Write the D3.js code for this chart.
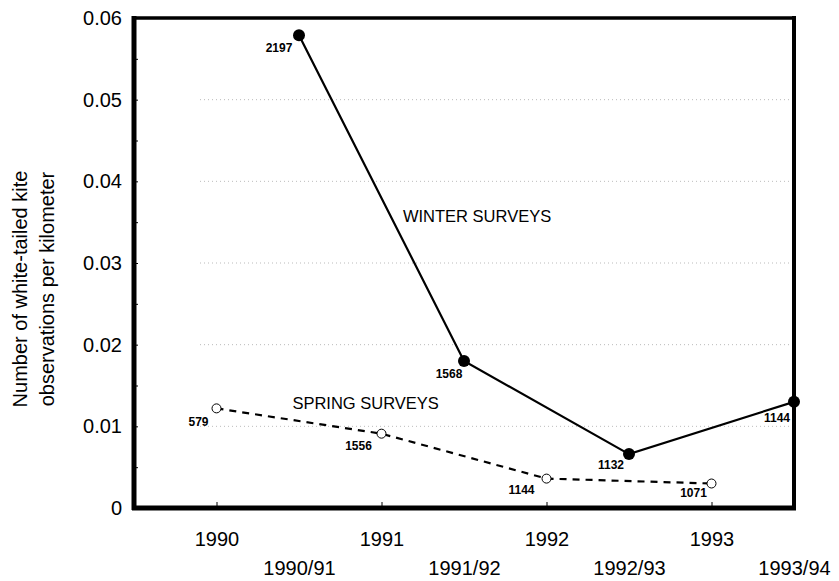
<!DOCTYPE html>
<html>
<head>
<meta charset="utf-8">
<script src="https://cdn.jsdelivr.net/npm/d3@7"></script>
<style>
body { margin: 0; background: #fff; }
text { font-family: "Liberation Sans", Arial, sans-serif; fill: #000; }
</style>
</head>
<body>
<script>
// data
var springYears = [1990, 1991, 1992, 1993];
var springValues = [0.0122, 0.0091, 0.0036, 0.0030];
var springCounts = ["579", "1556", "1144", "1071"];

var winterYears = [1990.5, 1991.5, 1992.5, 1993.5];
var winterValues = [0.0579, 0.0180, 0.0066, 0.0130];
var winterCounts = ["2197", "1568", "1132", "1144"];

var yTicks = [0, 0.01, 0.02, 0.03, 0.04, 0.05, 0.06];
var yTickLabels = ["0", "0.01", "0.02", "0.03", "0.04", "0.05", "0.06"];
var springTickLabels = ["1990", "1991", "1992", "1993"];
var winterTickLabels = ["1990/91", "1991/92", "1992/93", "1993/94"];

var margin = {top: 18, right: 45, bottom: 73, left: 134};
var width = 839 - margin.left - margin.right;
var height = 581 - margin.top - margin.bottom;

var svg = d3.select("body").append("svg")
	.attr("width", 839)
	.attr("height", 581);

var g = svg.append("g")
	.attr("transform", "translate(" + margin.left + "," + margin.top + ")");

var x = d3.scaleLinear().domain([1989.5, 1993.5]).range([0, width]);
var y = d3.scaleLinear().domain([0, 0.06]).range([height, 0]);

// dotted grid lines
g.selectAll("line.grid")
	.data(yTicks.slice(1, 6))
	.enter()
	.append("line")
	.attr("class", "grid")
	.attr("x1", x(1989.9))
	.attr("x2", width)
	.attr("y1", function (d) { return y(d); })
	.attr("y2", function (d) { return y(d); })
	.attr("stroke", "#aaa")
	.attr("stroke-width", 0.8)
	.attr("stroke-dasharray", "1,3");

// minor inward ticks on the left axis
g.append("g")
	.call(d3.axisRight(y).tickValues(d3.range(0, 0.0601, 0.005)).tickSize(4).tickFormat(""))
	.call(function (s) { s.select(".domain").remove(); })
	.selectAll("line").attr("stroke-width", 1);

// y axis labels
g.append("g")
	.call(d3.axisLeft(y).tickValues(yTicks).tickSize(0).tickPadding(12)
		.tickFormat(function (d, i) { return yTickLabels[i]; }))
	.call(function (s) { s.select(".domain").remove(); })
	.selectAll("text")
	.style("font-size", "20px")
	.style("font-family", "Liberation Sans, Arial, sans-serif");

// x axis: spring years (upper row)
g.append("g")
	.attr("transform", "translate(0," + height + ")")
	.call(d3.axisBottom(x).tickValues(springYears).tickSize(-6).tickPadding(24)
		.tickFormat(function (d, i) { return springTickLabels[i]; }))
	.call(function (s) { s.select(".domain").remove(); })
	.selectAll("text")
	.style("font-size", "20px")
	.style("font-family", "Liberation Sans, Arial, sans-serif");

// x axis: winter seasons (lower row)
g.append("g")
	.attr("transform", "translate(0," + height + ")")
	.call(d3.axisBottom(x).tickValues(winterYears).tickSize(0).tickPadding(53)
		.tickFormat(function (d, i) { return winterTickLabels[i]; }))
	.call(function (s) { s.select(".domain").remove(); })
	.selectAll("text")
	.style("font-size", "20px")
	.style("font-family", "Liberation Sans, Arial, sans-serif");

// frame
g.append("line").attr("x1", -2).attr("x2", width + 2).attr("y1", height).attr("y2", height)
	.attr("stroke", "#000").attr("stroke-width", 5);
g.append("line").attr("x1", 0).attr("x2", 0).attr("y1", -2).attr("y2", height + 2)
	.attr("stroke", "#000").attr("stroke-width", 5);
g.append("line").attr("x1", 0).attr("x2", width).attr("y1", 0).attr("y2", 0)
	.attr("stroke", "#000").attr("stroke-width", 3.5);
g.append("line").attr("x1", width).attr("x2", width).attr("y1", -2).attr("y2", height + 2)
	.attr("stroke", "#000").attr("stroke-width", 4);

var springData = springYears.map(function (d, i) { return {x: d, y: springValues[i], n: springCounts[i]}; });
var winterData = winterYears.map(function (d, i) { return {x: d, y: winterValues[i], n: winterCounts[i]}; });

var line = d3.line()
	.x(function (d) { return x(d.x); })
	.y(function (d) { return y(d.y); });

// spring: dashed line, open circles
g.append("path")
	.datum(springData)
	.attr("d", line)
	.attr("fill", "none")
	.attr("stroke", "#000")
	.attr("stroke-width", 2.2)
	.attr("stroke-dasharray", "7,6");

g.selectAll("circle.spring")
	.data(springData)
	.enter()
	.append("circle")
	.attr("class", "spring")
	.attr("cx", function (d) { return x(d.x); })
	.attr("cy", function (d) { return y(d.y); })
	.attr("r", 4.5)
	.attr("fill", "#fff")
	.attr("stroke", "#000")
	.attr("stroke-width", 1);

// winter: solid line, filled circles
g.append("path")
	.datum(winterData)
	.attr("d", line)
	.attr("fill", "none")
	.attr("stroke", "#000")
	.attr("stroke-width", 2.2);

g.selectAll("circle.winter")
	.data(winterData)
	.enter()
	.append("circle")
	.attr("class", "winter")
	.attr("cx", function (d) { return x(d.x); })
	.attr("cy", function (d) { return y(d.y); })
	.attr("r", 6)
	.attr("fill", "#000");

// sample size labels
var springOffsets = [[-18, 18], [-23, 16], [-25, 15], [-18, 13]];
var winterOffsets = [[-20, 17], [-15, 17], [-18, 15], [-17, 20]];

g.selectAll("text.sn")
	.data(springData)
	.enter()
	.append("text")
	.attr("class", "sn")
	.attr("x", function (d, i) { return x(d.x) + springOffsets[i][0]; })
	.attr("y", function (d, i) { return y(d.y) + springOffsets[i][1]; })
	.attr("text-anchor", "middle")
	.style("font-size", "12px")
	.style("font-weight", "bold")
	.text(function (d) { return d.n; });

g.selectAll("text.wn")
	.data(winterData)
	.enter()
	.append("text")
	.attr("class", "wn")
	.attr("x", function (d, i) { return x(d.x) + winterOffsets[i][0]; })
	.attr("y", function (d, i) { return y(d.y) + winterOffsets[i][1]; })
	.attr("text-anchor", "middle")
	.style("font-size", "12px")
	.style("font-weight", "bold")
	.text(function (d) { return d.n; });

// series labels
g.append("text")
	.attr("x", x(1991.13))
	.attr("y", y(0.0350))
	.style("font-size", "16.5px")
	.text("WINTER SURVEYS");

g.append("text")
	.attr("x", x(1990.46))
	.attr("y", y(0.0121))
	.style("font-size", "16.5px")
	.text("SPRING SURVEYS");

// y axis title
svg.append("text")
	.attr("transform", "translate(27,289) rotate(-90)")
	.attr("text-anchor", "middle")
	.style("font-size", "20px")
	.text("Number of white-tailed kite");

svg.append("text")
	.attr("transform", "translate(54,289) rotate(-90)")
	.attr("text-anchor", "middle")
	.style("font-size", "20px")
	.text("observations per kilometer");
</script>
</body>
</html>
